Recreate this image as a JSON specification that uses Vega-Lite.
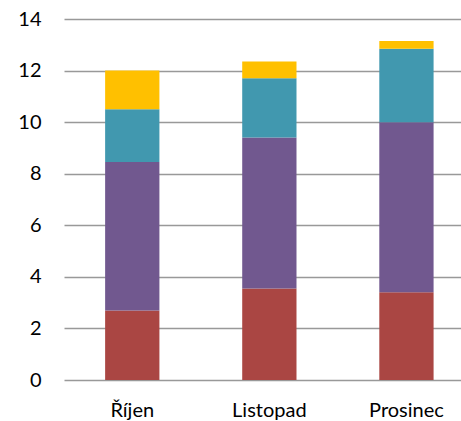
{
  "$schema": "https://vega.github.io/schema/vega-lite/v6.json",
  "width": 397,
  "height": 361,
  "autosize": {"type": "none"},
  "padding": {"left": 64, "top": 19, "right": 0, "bottom": 41},
  "background": "white",
  "config": {"view": {"stroke": null}},
  "data": {
    "values": [
      {"mesic": "Říjen", "rada": "s1", "poradi": 1, "hodnota": 2.7},
      {"mesic": "Říjen", "rada": "s2", "poradi": 2, "hodnota": 5.75},
      {"mesic": "Říjen", "rada": "s3", "poradi": 3, "hodnota": 2.05},
      {"mesic": "Říjen", "rada": "s4", "poradi": 4, "hodnota": 1.5},
      {"mesic": "Listopad", "rada": "s1", "poradi": 1, "hodnota": 3.55},
      {"mesic": "Listopad", "rada": "s2", "poradi": 2, "hodnota": 5.85},
      {"mesic": "Listopad", "rada": "s3", "poradi": 3, "hodnota": 2.3},
      {"mesic": "Listopad", "rada": "s4", "poradi": 4, "hodnota": 0.65},
      {"mesic": "Prosinec", "rada": "s1", "poradi": 1, "hodnota": 3.4},
      {"mesic": "Prosinec", "rada": "s2", "poradi": 2, "hodnota": 6.6},
      {"mesic": "Prosinec", "rada": "s3", "poradi": 3, "hodnota": 2.85},
      {"mesic": "Prosinec", "rada": "s4", "poradi": 4, "hodnota": 0.3}
    ]
  },
  "mark": {"type": "bar"},
  "encoding": {
    "x": {
      "field": "mesic",
      "type": "nominal",
      "sort": ["Říjen", "Listopad", "Prosinec"],
      "scale": {"paddingInner": 0.604, "paddingOuter": 0.25, "align": 0.6},
      "axis": {
        "title": null,
        "labelAngle": 0,
        "labelFont": "Lato",
        "labelFontSize": 20,
        "labelColor": "#000000",
        "labelPadding": 20,
        "ticks": false,
        "domain": false
      }
    },
    "y": {
      "field": "hodnota",
      "type": "quantitative",
      "stack": "zero",
      "scale": {"domain": [0, 14], "nice": false},
      "axis": {
        "title": null,
        "values": [0, 2, 4, 6, 8, 10, 12, 14],
        "labelFont": "Lato",
        "labelFontSize": 20,
        "labelColor": "#000000",
        "labelPadding": 23,
        "ticks": false,
        "domain": false,
        "grid": true,
        "gridColor": "#999999",
        "gridWidth": 1.5
      }
    },
    "color": {
      "field": "rada",
      "type": "nominal",
      "scale": {"domain": ["s1", "s2", "s3", "s4"], "range": ["#AA4643", "#71588F", "#4198AF", "#FFC000"]},
      "legend": null
    },
    "order": {"field": "poradi", "type": "quantitative", "sort": "ascending"}
  }
}
